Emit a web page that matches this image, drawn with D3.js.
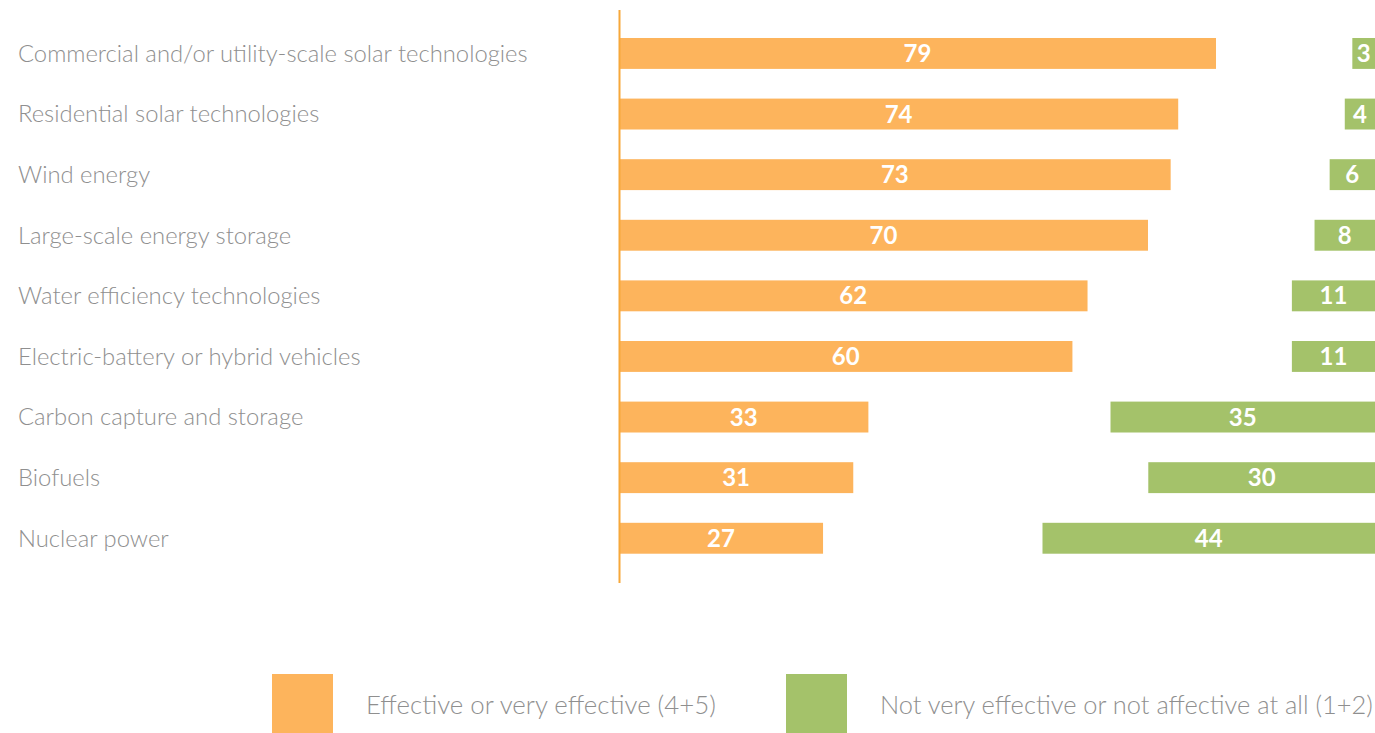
<!DOCTYPE html>
<html><head><meta charset="utf-8">
<script src="https://cdn.jsdelivr.net/npm/d3@7"></script>
<style>body{margin:0;background:#fff}svg{display:block}</style>
</head><body>
<svg id="c" width="1375" height="733"></svg>
<script>
const categories = ["Commercial and/or utility-scale solar technologies","Residential solar technologies","Wind energy","Large-scale energy storage","Water efficiency technologies","Electric-battery or hybrid vehicles","Carbon capture and storage","Biofuels","Nuclear power"];
const effective = [79,74,73,70,62,60,33,31,27];
const notEffective = [3,4,6,8,11,11,35,30,44];
const legendLabels = ["Effective or very effective (4+5)","Not very effective or not affective at all (1+2)"];

const ORANGE="#FDB45C", GREEN="#A4C26A", AXIS="#F7A83A", GRAY="#8f8f8f";
const svg=d3.select("#c");
const FONT="Lato, 'Open Sans', sans-serif";

const y=d3.scaleBand().domain(categories).range([8.3,583.4]).padding(0.49);
const xo=d3.scaleLinear().domain([0,100]).range([619,1374.7]);
const xg=d3.scaleLinear().domain([0,100]).range([1375,619.3]);

// labels
const lab=svg.append("g").selectAll("text").data(categories).join("text")
 .attr("x",18).attr("y",d=>y(d)+y.bandwidth()/2).attr("dy","0.35em")
 .attr("fill",GRAY).style("font-family",FONT).style("font-weight","300").style("font-size","22px").text(d=>d);
const w0=lab.nodes()[0].getComputedTextLength();
const fs=22*510/w0;
lab.style("font-size",fs+"px");

// orange bars
svg.append("g").selectAll("rect").data(effective).join("rect")
 .attr("x",xo(0)).attr("y",(d,i)=>y(categories[i])).attr("width",d=>xo(d)-xo(0)).attr("height",y.bandwidth()).attr("fill",ORANGE);
svg.append("g").selectAll("text").data(effective).join("text")
 .attr("x",d=>(xo(0)+xo(d))/2).attr("y",(d,i)=>y(categories[i])+y.bandwidth()/2).attr("dy","0.36em")
 .attr("text-anchor","middle").attr("fill","#fff").style("font-family",FONT).style("font-weight","700").style("font-size","24px").text(d=>d);

// green bars
svg.append("g").selectAll("rect").data(notEffective).join("rect")
 .attr("x",d=>xg(d)).attr("y",(d,i)=>y(categories[i])).attr("width",d=>xg(0)-xg(d)).attr("height",y.bandwidth()).attr("fill",GREEN);
svg.append("g").selectAll("text").data(notEffective).join("text")
 .attr("x",d=>(xg(0)+xg(d))/2).attr("y",(d,i)=>y(categories[i])+y.bandwidth()/2).attr("dy","0.36em")
 .attr("text-anchor","middle").attr("fill","#fff").style("font-family",FONT).style("font-weight","700").style("font-size","24px").text(d=>d);

// axis line
svg.append("line").attr("x1",619.5).attr("x2",619.5).attr("y1",10).attr("y2",583).attr("stroke",AXIS).attr("stroke-width",2);

// legend
const leg=[{c:ORANGE,x:272,tx:366,w:350},{c:GREEN,x:786,tx:880,w:493}];
leg.forEach((L,i)=>{
  svg.append("rect").attr("x",L.x).attr("y",674).attr("width",61).attr("height",60).attr("fill",L.c);
  const t=svg.append("text").attr("x",L.tx).attr("y",705).attr("dy","0.35em").attr("fill",GRAY)
   .style("font-family",FONT).style("font-weight","300").style("font-size","22px").text(legendLabels[i]);
  const w=t.node().getComputedTextLength();
  t.style("font-size",(22*L.w/w)+"px");
});
</script>
</body></html>
